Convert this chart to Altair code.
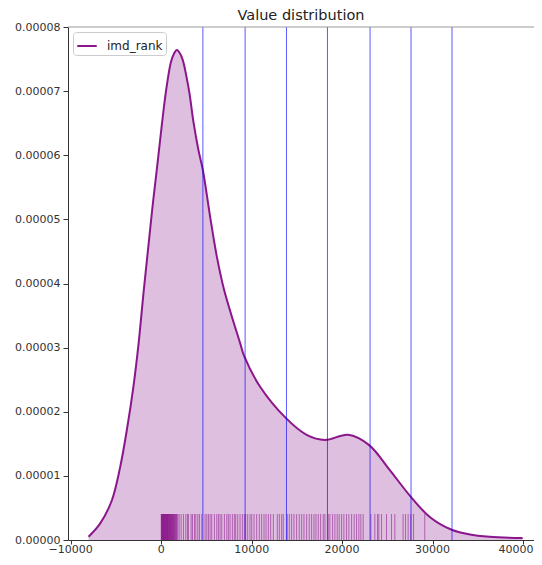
import altair as alt
import pandas as pd

# KDE curve (x in imd_rank units, y density in 1e-5)
kde_x = [-8033, -6740, -5448, -4530, -3790, -3061, -2508, -1956, -1403, -917, -409, 77,
         552, 1072, 1400, 1735, 2070, 2400, 2762, 3127, 3569, 4122, 4608, 5414, 6155, 6961,
         8729, 9204, 10939, 13797, 16082, 18102, 20673, 22991, 25276, 27561, 29691, 32119,
         34000, 36313, 39956]
kde_y_e5 = [0.051, 0.26, 0.62, 1.14, 1.72, 2.40, 3.05, 3.85, 4.60, 5.25, 5.87, 6.48,
            7.02, 7.45, 7.58, 7.64, 7.59, 7.48, 7.25, 6.97, 6.52, 6.08, 5.77, 5.04, 4.42,
            3.90, 3.07, 2.86, 2.39, 1.90, 1.64, 1.56, 1.64, 1.48, 1.09, 0.68, 0.36, 0.16,
            0.09, 0.05, 0.03]

# rug observations
rug_values = [
    5, 40, 80, 110, 150, 190, 230, 260, 300, 340, 380, 420, 450, 490, 530, 570, 610,
    650, 690, 720, 760, 800, 850, 890, 930, 980, 1020, 1070, 1110, 1160, 1200, 1250,
    1300, 1350, 1400, 1450, 1500, 1560, 1620, 1680, 1740,
    1840, 1990, 2210, 2465, 2720, 2905, 3015, 3310, 3460, 3680, 3830, 4050, 4230, 4490,
    4855, 5040, 5225, 5410, 5590, 5885, 6145, 6330, 6510, 6700, 6990, 7250, 7430, 7615,
    7870, 8090, 8240, 8465, 8720, 8975, 9195, 9340, 9565, 9820, 10010, 10265, 10560,
    10850, 11110, 11370, 11590, 11845, 12105, 12400, 12840, 13060, 13320, 13500, 13940,
    14165, 14420, 14680, 14975, 15265, 15530, 15785, 16080, 16370, 16630, 16890, 17110,
    17365, 17625, 17920, 18100, 18470, 18650, 18950, 19205, 19460, 19680, 19945, 20200,
    20495, 20750, 21050, 21335, 21600, 21855, 22075, 22330, 23180, 23620, 23920, 24060,
    24360, 24910, 25465, 25830, 26745, 27010, 27300, 27600, 27900, 29140]

# vertical reference lines
vline_values = [4610, 9280, 13850, 18380, 23090, 27620, 32150]

x_ticks = [-10000, 0, 10000, 20000, 30000, 40000]
y_ticks = [0, 0.00001, 0.00002, 0.00003, 0.00004, 0.00005, 0.00006, 0.00007, 0.00008]

W, H = 466, 513
FONT = "DejaVu Sans"

kde_df = pd.DataFrame({"x": kde_x, "y": [v * 1e-5 for v in kde_y_e5], "series": "imd_rank"})
rug_df = pd.DataFrame({"x": rug_values})
vl_df = pd.DataFrame({"x": vline_values})
xt_main = pd.DataFrame({"x": x_ticks[:-1]})
xt_last = pd.DataFrame({"x": x_ticks[-1:]})

xscale = alt.Scale(domain=[-10300, 41214], nice=False, zero=False)
yscale = alt.Scale(domain=[0, 0.00008], nice=False, zero=True)

xaxis = alt.Axis(values=x_ticks, grid=False, domainColor="#333", tickColor="#333",
                 tickSize=4, labels=False, title=None)
yaxis = alt.Axis(values=y_ticks, format=".5f", grid=False, domainColor="#333",
                 tickColor="#333", tickSize=5, labelColor="#333", labelFontSize=11,
                 labelFont=FONT, labelPadding=3, title=None)

area = alt.Chart(kde_df).mark_area(interpolate="catmull-rom", color="purple", opacity=0.25).encode(
    x=alt.X("x:Q", scale=xscale, axis=xaxis),
    y=alt.Y("y:Q", scale=yscale, axis=yaxis),
)

rug = alt.Chart(rug_df).mark_rule(color="purple", opacity=0.5, strokeWidth=1).encode(
    x=alt.X("x:Q"),
    y=alt.value(H),
    y2=alt.value(H - 26),
)

line = alt.Chart(kde_df).mark_line(interpolate="catmull-rom", strokeWidth=2, opacity=0.9).encode(
    x=alt.X("x:Q"),
    y=alt.Y("y:Q"),
    color=alt.Color("series:N",
                    scale=alt.Scale(domain=["imd_rank"], range=["purple"]),
                    legend=alt.Legend(title=None, orient="top-left", offset=5, padding=3,
                                      fillColor="white", strokeColor="#cccccc",
                                      cornerRadius=3, symbolType="stroke", symbolSize=380,
                                      symbolStrokeWidth=2, labelFontSize=12, labelFont=FONT,
                                      labelColor="#222", labelOffset=9)),
)

vlines = alt.Chart(vl_df).mark_rule(color="blue", opacity=0.65, strokeWidth=1).encode(
    x=alt.X("x:Q"),
)

top_spine = alt.Chart(pd.DataFrame({"a": [0]})).mark_rule(color="#999999", strokeWidth=1).encode(
    x=alt.value(0), x2=alt.value(W), y=alt.value(0)
)

xlab_main = alt.Chart(xt_main).mark_text(font=FONT, fontSize=11, color="#333",
                                         baseline="top", align="center").encode(
    x=alt.X("x:Q"), y=alt.value(H + 4), text=alt.Text("x:Q", format="d"))
xlab_last = alt.Chart(xt_last).mark_text(font=FONT, fontSize=11, color="#333",
                                         baseline="top", align="center", dx=-7).encode(
    x=alt.X("x:Q"), y=alt.value(H + 4), text=alt.Text("x:Q", format="d"))

chart = alt.layer(area, rug, line, vlines, top_spine, xlab_main, xlab_last).properties(
    width=W, height=H,
    title=alt.Title("Value distribution", fontSize=14.5, fontWeight="normal", font=FONT,
                    color="#222", offset=-2, anchor="middle"),
    padding={"left": 60, "top": 19, "right": 0, "bottom": 16},
    autosize=alt.AutoSizeParams(type="none"),
).configure_view(stroke=None)

chart.save("out.html", embed_options={"renderer": "svg", "actions": False})
